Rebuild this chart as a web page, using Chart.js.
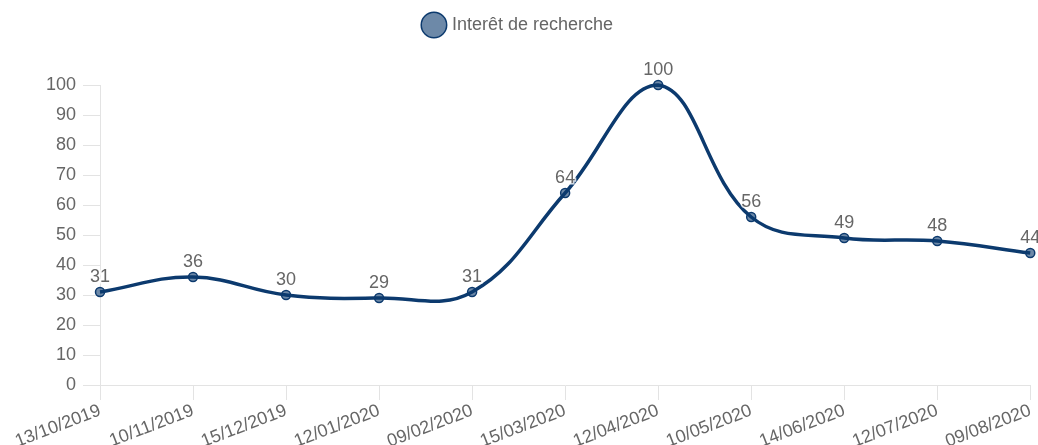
<!DOCTYPE html>
<html>
<head>
<meta charset="utf-8">
<script src="https://cdn.jsdelivr.net/npm/chart.js@4"></script>
<style>
  html, body { margin:0; padding:0; background:#fff; }
  #wrap { width:1038px; height:445px; }
</style>
</head>
<body>
<div id="wrap"><canvas id="chart"></canvas></div>
<script>
// data
const dates = ['13/10/2019','10/11/2019','15/12/2019','12/01/2020','09/02/2020','15/03/2020',
               '12/04/2020','10/05/2020','14/06/2020','12/07/2020','09/08/2020'];
const interest = [31, 36, 30, 29, 31, 64, 100, 56, 49, 48, 44];
const seriesName = 'Interêt de recherche';

const NAVY = '#0c3a6e';
const GREY = '#666';
const AXIS = '#e3e3e3';
const FONT = '"Liberation Sans", Arial, sans-serif';

// value labels above points
const valueLabels = {
  id:'valueLabels',
  afterDatasetsDraw(chart){
    const ctx = chart.ctx;
    const meta = chart.getDatasetMeta(0);
    ctx.save();
    ctx.font = '18px ' + FONT;
    ctx.textAlign = 'center';
    ctx.textBaseline = 'bottom';
    meta.data.forEach((pt, i) => {
      const txt = String(chart.data.datasets[0].data[i]);
      ctx.lineWidth = 3;
      ctx.strokeStyle = 'rgba(255,255,255,0.8)';
      ctx.strokeText(txt, pt.x, pt.y - 6);
      ctx.fillStyle = GREY;
      ctx.fillText(txt, pt.x, pt.y - 6);
    });
    ctx.restore();
  }
};

// extra room under the legend
const legendGap = {
  id:'legendGap',
  beforeInit(chart){
    const fit = chart.legend.fit;
    chart.legend.fit = function(){
      fit.bind(chart.legend)();
      this.height += 41;
    };
  }
};

window.addEventListener('load', () => {
  const ctx = document.getElementById('chart').getContext('2d');
  new Chart(ctx, {
    type:'line',
    data:{
      labels: dates,
      datasets:[{
        label: seriesName,
        data: interest,
        borderColor: NAVY,
        backgroundColor: 'rgba(12,58,110,0.5)',
        borderWidth: 3.5,
        pointRadius: 4.5,
        pointBorderWidth: 1.5,
        pointBackgroundColor: 'rgba(12,58,110,0.6)',
        tension: 0.4,
        fill: false,
        clip: false
      }]
    },
    options:{
      responsive:true,
      maintainAspectRatio:false,
      animation:false,
      layout:{ padding:{ top:4, right:0, left:0, bottom:0 } },
      plugins:{
        legend:{
          position:'top',
          labels:{
            usePointStyle:true,
            color:GREY,
            font:{ family:FONT, size:18 },
            padding:12
          }
        },
        tooltip:{ enabled:false }
      },
      scales:{
        x:{
          offset:false,
          grid:{ drawOnChartArea:false, drawTicks:true, tickLength:15, color:AXIS },
          border:{ color:AXIS },
          ticks:{
            color:GREY,
            padding:0,
            font:{ family:FONT, size:18 },
            minRotation:21, maxRotation:21,
            autoSkip:false
          },
          afterFit(scale){ scale.height = 60; }
        },
        y:{
          min:0, max:100,
          grid:{ drawOnChartArea:false, drawTicks:true, tickLength:17, color:AXIS },
          border:{ color:AXIS },
          ticks:{
            stepSize:10,
            color:GREY,
            padding:7,
            font:{ family:FONT, size:18 }
          },
          afterFit(scale){ scale.width = 100; }
        }
      }
    },
    plugins:[valueLabels, legendGap]
  });
});
</script>
</body>
</html>
